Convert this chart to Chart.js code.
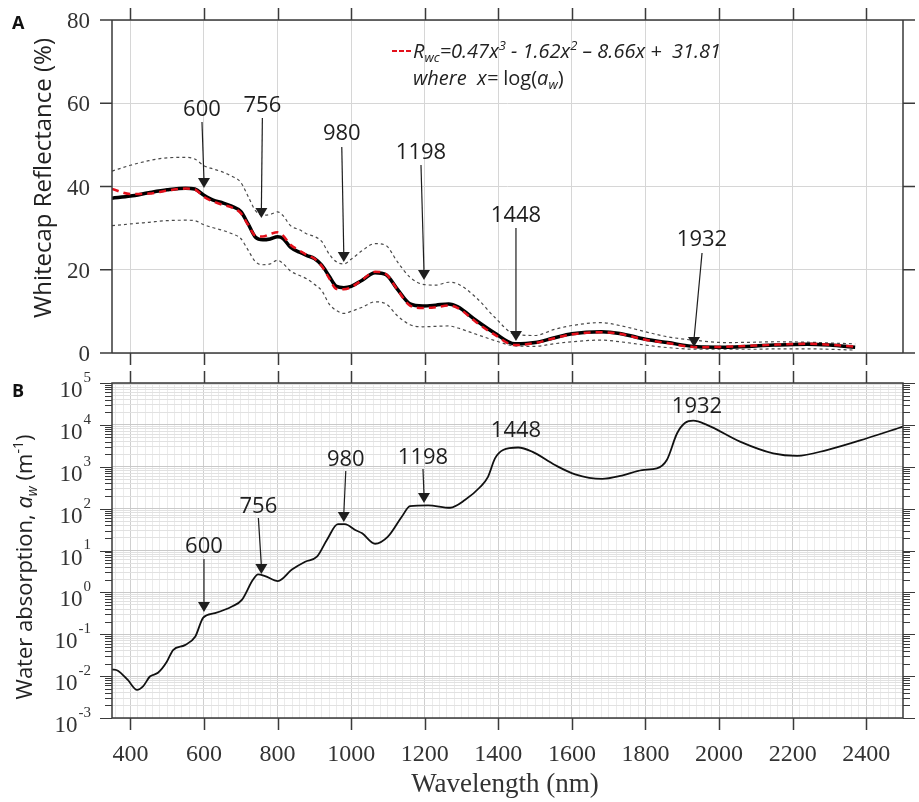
<!DOCTYPE html>
<html>
<head>
<meta charset="utf-8">
<script src="https://cdn.jsdelivr.net/npm/chart.js@4"></script>
<style>
  body { margin: 0; background: #fff; }
  #wrap { position: relative; width: 919px; height: 802px; }
  canvas { position: absolute; left: 0; }
</style>
</head>
<body>
<div id="wrap">
  <canvas id="refl" style="top:0" width="919" height="370"></canvas>
  <canvas id="absorb" style="top:370px" width="919" height="432"></canvas>
</div>
<script>
// whitecap reflectance (%), mean / model / +- bounds
const wavelength = [350, 400, 450, 500, 550, 575, 600, 625, 650, 675, 700, 720, 740, 760, 780, 800, 815, 835, 860, 880,
  900, 920, 940, 960, 980, 1000, 1030, 1065, 1095, 1125, 1160, 1195, 1230, 1265, 1290, 1340, 1390, 1445, 1500, 1550,
  1600, 1680, 1730, 1800, 1860, 1940, 2020, 2100, 2150, 2240, 2300, 2370];
const meanRefl = [37.2, 37.7, 38.5, 39.2, 39.6, 39.4, 37.9, 36.7, 36.1, 35.3, 34.0, 31.0, 27.8, 27.2, 27.4, 27.9, 27.5, 25.4, 24.2, 23.4,
  22.7, 21.1, 18.5, 16.0, 15.7, 16.0, 17.5, 19.3, 18.8, 15.4, 11.8, 11.3, 11.5, 11.8, 11.1, 7.8, 4.8, 2.2, 2.5, 3.6,
  4.6, 5.1, 4.7, 3.3, 2.5, 1.5, 1.4, 1.7, 1.9, 2.1, 1.9, 1.4];
const modelRefl = [39.4, 38.2, 38.3, 39.0, 39.5, 39.3, 37.5, 36.4, 35.6, 35.0, 33.6, 30.8, 28.2, 28.0, 28.6, 29.0, 28.2, 26.0, 24.6, 23.5,
  22.7, 20.9, 18.0, 15.4, 15.3, 15.8, 17.6, 19.5, 18.9, 15.3, 11.4, 10.8, 11.0, 11.4, 10.8, 7.4, 4.4, 1.9, 2.4, 3.5,
  4.5, 5.0, 4.6, 3.2, 2.4, 1.4, 1.5, 1.8, 2.0, 2.2, 2.0, 1.5];
const upperRefl = [43.7, 45.1, 46.2, 46.9, 47.0, 46.6, 45.0, 44.2, 43.5, 42.5, 41.0, 37.6, 34.2, 33.1, 33.3, 33.9, 33.0, 30.6, 29.6, 28.6,
  28.0, 26.8, 23.8, 21.9, 21.4, 22.5, 24.6, 26.3, 25.8, 22.0, 18.2, 16.5, 16.3, 17.0, 16.6, 13.3, 8.6, 4.5, 4.2, 5.6,
  6.6, 7.3, 6.6, 5.1, 3.9, 3.0, 2.5, 2.6, 2.7, 2.6, 2.4, 2.2];
const lowerRefl = [30.6, 31.0, 31.4, 31.8, 31.9, 31.8, 30.8, 30.1, 29.5, 28.7, 27.5, 24.7, 21.9, 21.2, 21.4, 22.3, 21.5, 19.7, 18.6, 17.8,
  16.5, 15.0, 11.8, 10.2, 9.5, 10.0, 11.0, 12.3, 11.8, 9.0, 6.8, 6.3, 6.4, 6.5, 6.0, 4.5, 3.0, 1.7, 1.6, 2.2,
  2.7, 3.1, 2.7, 1.9, 1.3, 0.9, 0.9, 0.9, 1.0, 1.0, 0.9, 0.7];

// pure water absorption (1/m)
const absWavelength = [350, 366, 393, 418, 435, 453, 475, 499, 516, 548, 576, 598, 630, 676, 703, 733, 747, 766, 801, 839,
  875, 907, 934, 964, 983, 1011, 1030, 1065, 1100, 1138, 1160, 1209, 1269, 1310, 1350, 1372, 1391, 1413, 1454, 1492,
  1554, 1609, 1682, 1736, 1791, 1831, 1858, 1886, 1908, 1930, 1967, 2057, 2147, 2212, 2293, 2402, 2500];
const waterAbs = [0.0145, 0.0135, 0.0081, 0.0047, 0.0058, 0.0098, 0.012, 0.022, 0.042, 0.055, 0.087, 0.25, 0.32, 0.46, 0.66, 2.0, 2.7, 2.45, 1.86, 3.5,
  5.4, 7.1, 17.8, 42.7, 42.7, 31, 25.7, 14.5, 21.4, 64.6, 115, 120, 105, 162, 324, 575, 1585, 2510, 2880, 2290,
  1100, 660, 513, 617, 832, 912, 1445, 6310, 11200, 12600, 10000, 3980, 2090, 1820, 2510, 4790, 9120];

const xTicks = [400, 600, 800, 1000, 1200, 1400, 1600, 1800, 2000, 2200, 2400];
const reflTicks = [0, 20, 40, 60, 80];
const absDecades = [-3, -2, -1, 0, 1, 2, 3, 4, 5];
const peakLabels = ['600', '756', '980', '1198', '1448', '1932'];

const pts = (xs, ys) => xs.map((x, i) => ({ x: x, y: ys[i] }));

const ink = '#3a3a3a';
const serif = '"Liberation Serif", "Times New Roman", serif';
const sans = '"Open Sans", "Noto Sans", sans-serif';

function richWidth(ctx, parts) {
  let w = 0;
  parts.forEach(p => { ctx.font = p[1]; w += ctx.measureText(p[0]).width; });
  return w;
}
function richText(ctx, parts, x, y) {
  let cx = x;
  parts.forEach(p => {
    ctx.font = p[1];
    ctx.fillText(p[0], cx, y + (p[2] || 0));
    cx += ctx.measureText(p[0]).width;
  });
}
function arrow(ctx, x1, y1, x2, y2) {
  ctx.beginPath();
  ctx.moveTo(x1, y1);
  ctx.lineTo(x2, y2 - 8);
  ctx.stroke();
  ctx.beginPath();
  ctx.moveTo(x2 - 6, y2 - 10);
  ctx.lineTo(x2 + 6, y2 - 10);
  ctx.lineTo(x2, y2);
  ctx.closePath();
  ctx.fill();
}

// arrow/label placement for each peak, canvas pixels
const topNotes = [
  { dx: -2, ty: 110, ly: 122, tip: 188 },
  { dx: 1, ty: 106, ly: 118, tip: 218 },
  { dx: -2, ty: 134, ly: 147, tip: 262 },
  { dx: -3, ty: 153, ly: 165, tip: 280 },
  { dx: 0, ty: 216, ly: 228, tip: 341 },
  { dx: 8, ty: 240, ly: 253, tip: 347 }
];
const bottomNotes = [
  { dx: 0, ty: 177, ly: 189, tip: 242 },
  { dx: -3, ty: 137, ly: 148, tip: 204 },
  { dx: 2, ty: 90, ly: 101, tip: 152 },
  { dx: -1, ty: 88, ly: 99, tip: 133 },
  { dx: 0, ty: 61 },
  { dx: 3, ty: 37 }
];

function drawNotes(chart, notes) {
  const { ctx, scales: { x } } = chart;
  ctx.save();
  ctx.fillStyle = '#1e1e1e';
  ctx.strokeStyle = '#1e1e1e';
  ctx.lineWidth = 1.2;
  ctx.font = '22px ' + sans;
  ctx.textAlign = 'center';
  ctx.textBaseline = 'middle';
  notes.forEach((n, i) => {
    const nm = Number(peakLabels[i]);
    const px = x.getPixelForValue(nm);
    ctx.fillText(peakLabels[i], px + n.dx, n.ty);
    if (n.tip) arrow(ctx, px + n.dx, n.ly, px, n.tip);
  });
  ctx.restore();
}

const reflFrame = {
  id: 'reflFrame',
  afterDraw(chart) {
    const { ctx, chartArea: a, scales: { x, y } } = chart;
    ctx.save();
    ctx.strokeStyle = ink;
    ctx.lineWidth = 1.5;
    ctx.beginPath();
    ctx.rect(a.left, a.top, a.right - a.left, a.bottom - a.top);
    xTicks.forEach(v => {
      const px = Math.round(x.getPixelForValue(v)) + 0.5;
      ctx.moveTo(px, a.top); ctx.lineTo(px, a.top - 12);
      ctx.moveTo(px, a.bottom); ctx.lineTo(px, a.bottom + 12);
    });
    reflTicks.forEach(v => {
      const py = y.getPixelForValue(v);
      ctx.moveTo(a.left, py); ctx.lineTo(a.left - 12, py);
      ctx.moveTo(a.right, py); ctx.lineTo(a.right + 12, py);
    });
    ctx.stroke();

    // y tick labels
    ctx.fillStyle = '#333';
    ctx.font = '23px ' + serif;
    ctx.textAlign = 'right';
    ctx.textBaseline = 'middle';
    reflTicks.forEach(v => ctx.fillText(String(v), 90, y.getPixelForValue(v) + 2));

    // panel letter and axis title
    ctx.textAlign = 'left';
    ctx.fillStyle = '#111';
    ctx.font = 'bold 18px ' + sans;
    ctx.fillText('A', 12, 24);
    ctx.fillStyle = '#222';
    ctx.textBaseline = 'alphabetic';
    ctx.translate(51, 178);
    ctx.rotate(-Math.PI / 2);
    const title = [['Whitecap Reflectance (%)', '24px ' + sans]];
    richText(ctx, title, -richWidth(ctx, title) / 2, 0);
    ctx.restore();

    // legend for the fitted model
    ctx.save();
    ctx.strokeStyle = '#e3101b';
    ctx.lineWidth = 2;
    ctx.setLineDash([5, 2]);
    ctx.beginPath();
    ctx.moveTo(392, 51); ctx.lineTo(412, 51);
    ctx.stroke();
    ctx.fillStyle = '#222';
    const it = 'italic 20px ' + sans, itS = 'italic 13px ' + sans, rg = '20px ' + sans;
    richText(ctx, [['R', it], ['wc', itS, 4], ['=0.47x', it], ['3', itS, -8], [' - 1.62x', it], ['2', itS, -8],
      [' \u2013 8.66x +  31.81', it]], 413, 58);
    richText(ctx, [['where  x= ', it], ['log(', rg], ['a', it], ['w', itS, 4], [')', rg]], 413, 85);
    ctx.restore();

    drawNotes(chart, topNotes);
  }
};

const absFrame = {
  id: 'absFrame',
  afterDraw(chart) {
    const { ctx, chartArea: a, scales: { x, y } } = chart;
    ctx.save();
    ctx.strokeStyle = ink;
    ctx.lineWidth = 1.5;
    ctx.beginPath();
    ctx.rect(a.left, a.top, a.right - a.left, a.bottom - a.top);
    xTicks.forEach(v => {
      const px = Math.round(x.getPixelForValue(v)) + 0.5;
      ctx.moveTo(px, a.top); ctx.lineTo(px, a.top - 12);
      ctx.moveTo(px, a.bottom); ctx.lineTo(px, a.bottom + 12);
    });
    ctx.stroke();
    ctx.lineWidth = 1;
    ctx.beginPath();
    y.ticks.forEach(t => {
      const py = Math.round(y.getPixelForValue(t.value)) + 0.5;
      const len = t.major ? 12 : 7;
      ctx.moveTo(a.left, py); ctx.lineTo(a.left - len, py);
      ctx.moveTo(a.right, py); ctx.lineTo(a.right + len, py);
    });
    ctx.stroke();

    // decade labels 10^n
    ctx.fillStyle = '#333';
    ctx.textAlign = 'right';
    ctx.textBaseline = 'middle';
    absDecades.forEach(d => {
      const py = y.getPixelForValue(Math.pow(10, d));
      const ex = String(d).replace('-', '\u2010');
      ctx.font = '15px ' + serif;
      const ew = ctx.measureText(ex).width;
      ctx.fillText(ex, 91, py - 5);
      ctx.font = '23px ' + serif;
      ctx.fillText('10', 90 - ew, py + 8);
    });

    // x axis title
    ctx.textAlign = 'center';
    ctx.font = '27px ' + serif;
    ctx.fillText('Wavelength (nm)', 505, 415);

    ctx.textAlign = 'left';
    ctx.fillStyle = '#111';
    ctx.font = 'bold 18px ' + sans;
    ctx.fillText('B', 12, 22);

    ctx.fillStyle = '#222';
    ctx.textBaseline = 'alphabetic';
    ctx.translate(32, 197);
    ctx.rotate(-Math.PI / 2);
    const f = '22px ' + sans, fi = 'italic 22px ' + sans, fs = 'italic 14px ' + sans, fsup = '14px ' + sans;
    const title = [['Water absorption, ', f], ['a', fi], ['w', fs, 5], [' (m', f], ['-1', fsup, -9], [')', f]];
    richText(ctx, title, -richWidth(ctx, title) / 2, 0);
    ctx.restore();

    drawNotes(chart, bottomNotes);
  }
};

new Chart(document.getElementById('refl'), {
  type: 'line',
  data: {
    datasets: [
      { data: pts(wavelength, modelRefl), borderColor: '#e3101b', borderWidth: 2.5, borderDash: [7, 5] },
      { data: pts(wavelength, meanRefl), borderColor: '#000', borderWidth: 3.5 },
      { data: pts(wavelength, upperRefl), borderColor: '#4a4a4a', borderWidth: 1.2, borderDash: [3, 3] },
      { data: pts(wavelength, lowerRefl), borderColor: '#4a4a4a', borderWidth: 1.2, borderDash: [3, 3] }
    ]
  },
  options: {
    responsive: false,
    animation: false,
    elements: { point: { radius: 0 }, line: { cubicInterpolationMode: 'monotone', fill: false } },
    layout: { padding: { top: 20, right: 16, bottom: 17, left: 0 } },
    plugins: { legend: { display: false }, tooltip: { enabled: false } },
    scales: {
      x: {
        type: 'linear', min: 350, max: 2500,
        afterBuildTicks: s => { s.ticks = xTicks.map(v => ({ value: v })); },
        afterFit: s => { s.height = 0; },
        ticks: { display: false },
        grid: { color: '#d6d6d6', drawTicks: false },
        border: { display: false }
      },
      y: {
        min: 0, max: 80,
        afterBuildTicks: s => { s.ticks = reflTicks.map(v => ({ value: v })); },
        afterFit: s => { s.width = 112; },
        ticks: { display: false },
        grid: { color: '#d6d6d6', drawTicks: false },
        border: { display: false }
      }
    }
  },
  plugins: [reflFrame]
});

const logTicks = [];
absDecades.forEach(d => {
  for (let m = 1; m <= 9; m++) {
    if (d === 5 && m > 1) break;
    logTicks.push({ value: m * Math.pow(10, d), major: m === 1 });
  }
});
const minorX = [];
for (let v = 360; v < 2500; v += 20) minorX.push({ value: v, major: v % 200 === 0 });

new Chart(document.getElementById('absorb'), {
  type: 'line',
  data: {
    datasets: [
      { data: pts(absWavelength, waterAbs), borderColor: '#111', borderWidth: 1.8 }
    ]
  },
  options: {
    responsive: false,
    animation: false,
    elements: { point: { radius: 0 }, line: { cubicInterpolationMode: 'monotone', fill: false } },
    layout: { padding: { top: 13, right: 16, bottom: 0, left: 0 } },
    plugins: { legend: { display: false }, tooltip: { enabled: false } },
    scales: {
      x: {
        type: 'linear', min: 350, max: 2500,
        afterBuildTicks: s => { s.ticks = minorX.map(t => ({ value: t.value, major: t.major })); },
        afterFit: s => { s.height = 84; },
        ticks: {
          autoSkip: false, maxRotation: 0, padding: 22,
          font: { family: serif, size: 24 }, color: '#333',
          callback: v => (v % 200 === 0 && v >= 400 && v <= 2400) ? String(v) : ''
        },
        grid: {
          drawTicks: false,
          color: c => (c.tick && c.tick.value % 200 === 0) ? '#cfcfcf' : '#ebebeb'
        },
        border: { display: false }
      },
      y: {
        type: 'logarithmic', min: 1e-3, max: 1e5,
        afterBuildTicks: s => { s.ticks = logTicks.map(t => ({ value: t.value, major: t.major })); },
        afterFit: s => { s.width = 112; },
        ticks: { display: false },
        grid: {
          drawTicks: false,
          color: c => (c.tick && c.tick.major) ? '#c9c9c9' : '#e1e1e1'
        },
        border: { display: false }
      }
    }
  },
  plugins: [absFrame]
});
</script>
</body>
</html>
